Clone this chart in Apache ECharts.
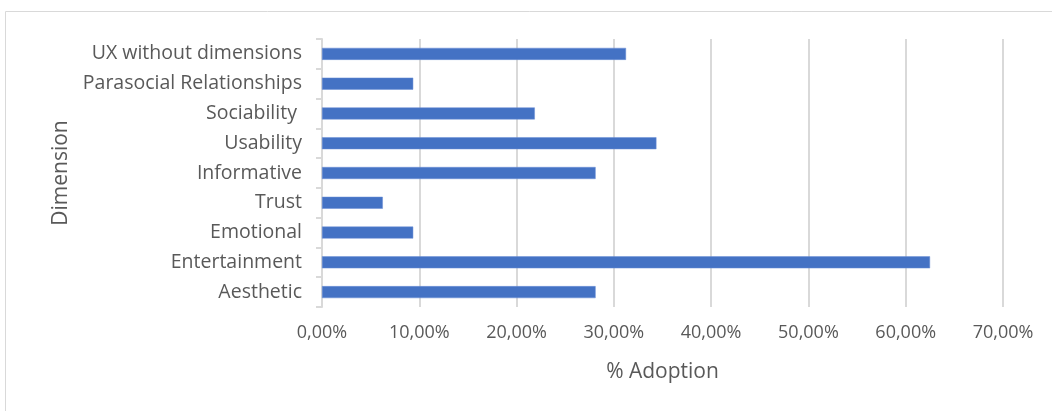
<!DOCTYPE html>
<html>
<head>
<meta charset="utf-8">
<script src="https://cdn.jsdelivr.net/npm/echarts@6/dist/echarts.min.js"></script>
<style>
html,body{margin:0;padding:0;background:#fff;}
#c{width:1052px;height:411px;}
</style>
</head>
<body>
<div id="c"></div>
<script>
const categories = ["Aesthetic","Entertainment","Emotional","Trust","Informative","Usability","Sociability ","Parasocial Relationships","UX without dimensions"];
const adoption = [28.125, 62.5, 9.375, 6.25, 28.125, 34.375, 21.875, 9.375, 31.25];
const xTicks = [0,10,20,30,40,50,60,70];

const font = "Open Sans";
const chart = echarts.init(document.getElementById('c'));
chart.setOption({
  animation:false,
  graphic:[{type:'rect',shape:{x:5.5,y:11.5,width:1100,height:500},style:{fill:'none',stroke:'#d9d9d9',lineWidth:1}}],
  grid:{left:322,right:49,top:39,bottom:104,containLabel:false},
  xAxis:{
    type:'value',min:xTicks[0],max:xTicks[xTicks.length-1],interval:10,
    name:'% Adoption',nameLocation:'middle',nameGap:55,
    nameTextStyle:{color:'#595959',fontSize:21,fontFamily:font},
    axisLine:{show:false},axisTick:{show:false},
    axisLabel:{color:'#595959',fontSize:18,fontFamily:font,margin:17,
      formatter:v=>v.toFixed(2).replace('.',',')+'%'},
    splitLine:{show:true,lineStyle:{color:'#d9d9d9',width:2}}
  },
  yAxis:{
    type:'category',data:categories,
    name:'Dimension',nameLocation:'middle',nameGap:250,nameRotate:90,
    nameTextStyle:{color:'#595959',fontSize:21,fontFamily:font},
    axisLine:{show:true,lineStyle:{color:'#d9d9d9',width:2}},
    axisTick:{show:true,length:6,lineStyle:{color:'#d9d9d9',width:2}},
    axisLabel:{color:'#595959',fontSize:19.5,fontFamily:font,margin:20},
    splitLine:{show:false}
  },
  series:[{type:'bar',data:adoption,barWidth:12,
    itemStyle:{color:'#4472C4',borderColor:'#6a8fd6',borderWidth:0.5}}]
});
</script>
</body>
</html>
